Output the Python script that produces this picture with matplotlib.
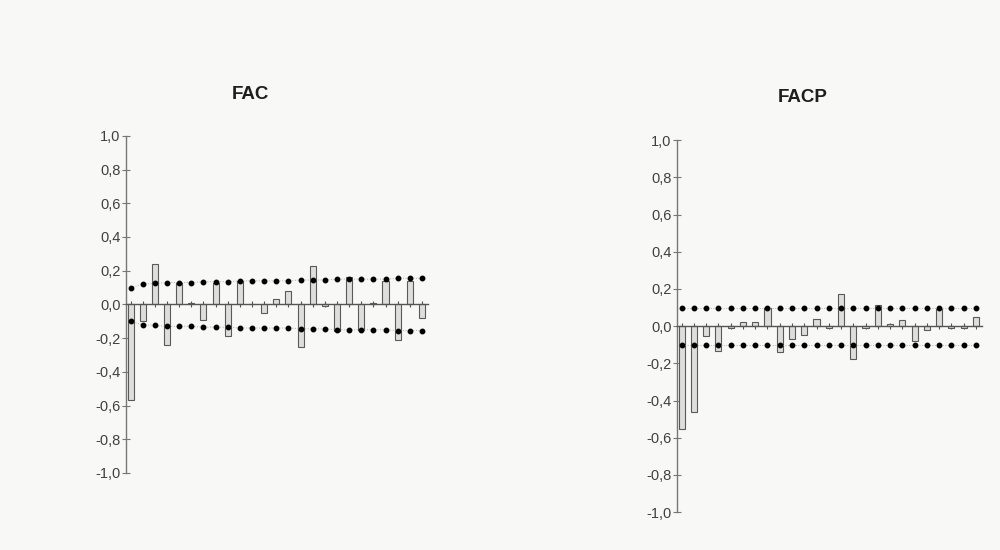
import matplotlib
matplotlib.use("Agg")
import matplotlib.pyplot as plt
import numpy as np

plt.rcParams['font.family'] = ['Liberation Sans', 'DejaVu Sans']

lags = list(range(1, 26))
fac = [-0.565, -0.10, 0.24, -0.24, 0.13, 0.01, -0.09, 0.13, -0.19, 0.14,
       0.00, -0.05, 0.03, 0.08, -0.25, 0.23, -0.01, -0.16, 0.16, -0.15,
       0.01, 0.14, -0.21, 0.14, -0.08]
fac_band = [0.10, 0.12, 0.125, 0.13, 0.13, 0.13, 0.135, 0.135, 0.135, 0.14,
            0.14, 0.14, 0.14, 0.14, 0.145, 0.145, 0.145, 0.15, 0.15, 0.15,
            0.15, 0.15, 0.155, 0.155, 0.155]
facp = [-0.555, -0.46, -0.055, -0.135, -0.01, 0.02, 0.02, 0.095, -0.14, -0.07,
        -0.045, 0.04, -0.01, 0.175, -0.175, -0.01, 0.115, 0.01, 0.035, -0.08,
        -0.02, 0.09, -0.01, -0.01, 0.05]
facp_band = [0.10] * 25
yticks = [-1.0, -0.8, -0.6, -0.4, -0.2, 0.0, 0.2, 0.4, 0.6, 0.8, 1.0]
titles = ["FAC", "FACP"]

BG = '#f8f8f7'
fig = plt.figure(figsize=(10, 5.5), dpi=100, facecolor=BG)

axes_rects = [[0.126, 0.140, 0.302, 0.613], [0.677, 0.069, 0.305, 0.676]]
title_pos = [(0.250, 0.828), (0.803, 0.822)]

for rect, vals, band, title, tpos in zip(axes_rects, [fac, facp], [fac_band, facp_band], titles, title_pos):
    ax = fig.add_axes(rect)
    ax.set_facecolor(BG)
    ax.bar(lags, vals, width=0.5, color='#dededc', edgecolor='#5a5a5a',
           linewidth=0.8, zorder=2)
    ax.plot(lags, band, linestyle=':', color='#b0b0b0', linewidth=0.7,
            marker='o', markersize=3.2, markerfacecolor='black',
            markeredgecolor='black', zorder=3)
    ax.plot(lags, [-b for b in band], linestyle=':', color='#b0b0b0', linewidth=0.7,
            marker='o', markersize=3.2, markerfacecolor='black',
            markeredgecolor='black', zorder=3)
    ax.set_xlim(0.62, 25.5)
    ax.set_ylim(-1.0, 1.0)
    for s in ['top', 'right']:
        ax.spines[s].set_visible(False)
    ax.spines['bottom'].set_position(('data', 0))
    ax.spines['bottom'].set_color('#555555')
    ax.spines['bottom'].set_linewidth(1.0)
    ax.spines['left'].set_color('#777777')
    ax.spines['left'].set_linewidth(1.0)
    ax.set_xticks(lags)
    ax.set_xticklabels([])
    ax.tick_params(axis='x', direction='inout', length=4, width=0.8, colors='#555555')
    ax.set_yticks(yticks)
    ax.set_yticklabels([f"{t:.1f}".replace('.', ',') for t in yticks])
    ax.tick_params(axis='y', direction='inout', length=6, width=0.8,
                   colors='#777777', labelcolor='#404040', labelsize=10.5, pad=1)
    fig.text(tpos[0], tpos[1], title, ha='center', va='center',
             fontsize=13.5, fontweight='bold', color='#1e1e1e')

fig.savefig('out.png', dpi=100, facecolor=BG)
